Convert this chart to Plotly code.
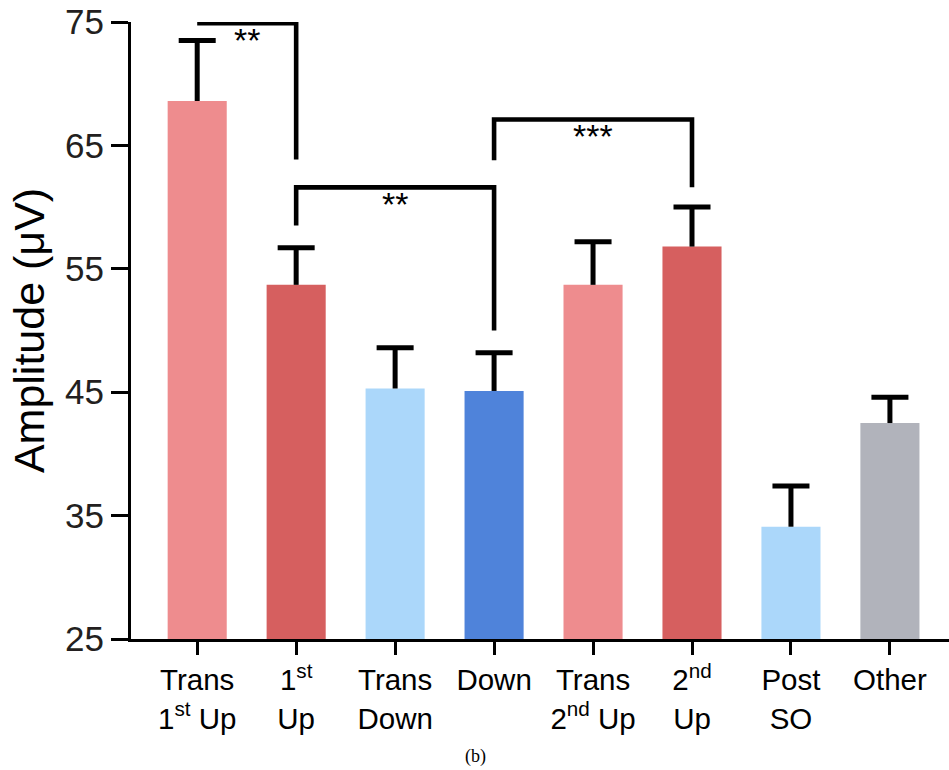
import plotly.graph_objects as go

# Bar categories (tick labels use HTML superscripts for ordinals)
categories = ["Trans 1st Up", "1st Up", "Trans Down", "Down",
              "Trans 2nd Up", "2nd Up", "Post SO", "Other"]
tick_labels = ["Trans<br>1<sup>st</sup> Up", "1<sup>st</sup><br>Up", "Trans<br>Down", "Down",
               "Trans<br>2<sup>nd</sup> Up", "2<sup>nd</sup><br>Up", "Post<br>SO", "Other"]

# Mean amplitude (µV) and upper error (SEM) per category
means = [68.6, 53.7, 45.3, 45.1, 53.7, 56.8, 34.1, 42.5]
errors = [4.9, 3.0, 3.3, 3.1, 3.5, 3.2, 3.3, 2.1]

bar_colors = ["#EE8C8E", "#D65F5F", "#ABD7FA", "#4F83DA",
              "#EE8C8E", "#D65F5F", "#ABD7FA", "#B1B3BB"]

# Significance brackets: (left index, right index, bracket height,
#                         left leg bottom, right leg bottom, label)
brackets = [
    (0, 1, 74.9, 74.9, 63.85, "**"),
    (1, 3, 61.6, 58.5, 50.0, "**"),
    (3, 5, 67.1, 63.8, 61.6, "***"),
]

y_ticks = [25, 35, 45, 55, 65, 75]

positions = list(range(len(categories)))
bar_width = 0.597
cap_half = 0.187

fig = go.Figure()

fig.add_trace(go.Bar(
    x=positions, y=means, width=bar_width,
    marker=dict(color=bar_colors, line=dict(width=0)),
    hovertext=categories, showlegend=False,
))

# One-sided (upward) error bars: stem plus cap
ex, ey = [], []
for x, m, e in zip(positions, means, errors):
    ex += [x, x, None, x - cap_half, x + cap_half, None]
    ey += [m, m + e, None, m + e, m + e, None]
fig.add_trace(go.Scatter(
    x=ex, y=ey, mode="lines", line=dict(color="black", width=5),
    cliponaxis=False, showlegend=False, hoverinfo="skip",
))

# Significance brackets
bx, by = [], []
for i, j, h, yl, yr, _ in brackets:
    bx += [i, i, j, j, None]
    by += [yl, h, h, yr, None]
fig.add_trace(go.Scatter(
    x=bx, y=by, mode="lines", line=dict(color="black", width=4.6),
    cliponaxis=False, showlegend=False, hoverinfo="skip",
))

for i, j, h, _, _, label in brackets:
    fig.add_annotation(
        x=(i + j) / 2, y=h, xref="x", yref="y", text=label,
        showarrow=False, yanchor="middle", yshift=-17,
        font=dict(family="Liberation Sans, Arial", size=34, color="black"),
    )

# Panel caption under the axis
fig.add_annotation(
    x=(475 - 131) / (949 - 131), y=-0.19, xref="paper", yref="paper",
    text="(b)", showarrow=False, xanchor="center", yanchor="middle",
    font=dict(family="Liberation Serif, Times New Roman, serif", size=18, color="black"),
)

fig.update_layout(
    width=949, height=770,
    margin=dict(l=131, r=0, t=22, b=131, autoexpand=False),
    plot_bgcolor="white", paper_bgcolor="white",
    bargap=0.4,
    font=dict(family="Liberation Sans, Arial", color="black"),
)

fig.update_xaxes(
    range=[-0.669, 7.597],
    tickmode="array", tickvals=positions, ticktext=tick_labels,
    ticks="outside", ticklen=13, tickwidth=3, tickcolor="black",
    showline=True, linewidth=3, linecolor="black",
    showgrid=False, zeroline=False,
    tickfont=dict(family="Liberation Sans, Arial", size=29.5, color="black"),
)

fig.update_yaxes(
    range=[25, 75],
    tickmode="array", tickvals=y_ticks,
    ticks="outside", ticklen=17, tickwidth=3, tickcolor="black",
    showline=True, linewidth=3, linecolor="black",
    showgrid=False, zeroline=False,
    tickfont=dict(family="Liberation Sans, Arial", size=35, color="#231F20"),
    title=dict(text="Amplitude (μV)", standoff=8,
               font=dict(family="Liberation Sans, Arial", size=43, color="black")),
)

fig.write_html("out.html")
